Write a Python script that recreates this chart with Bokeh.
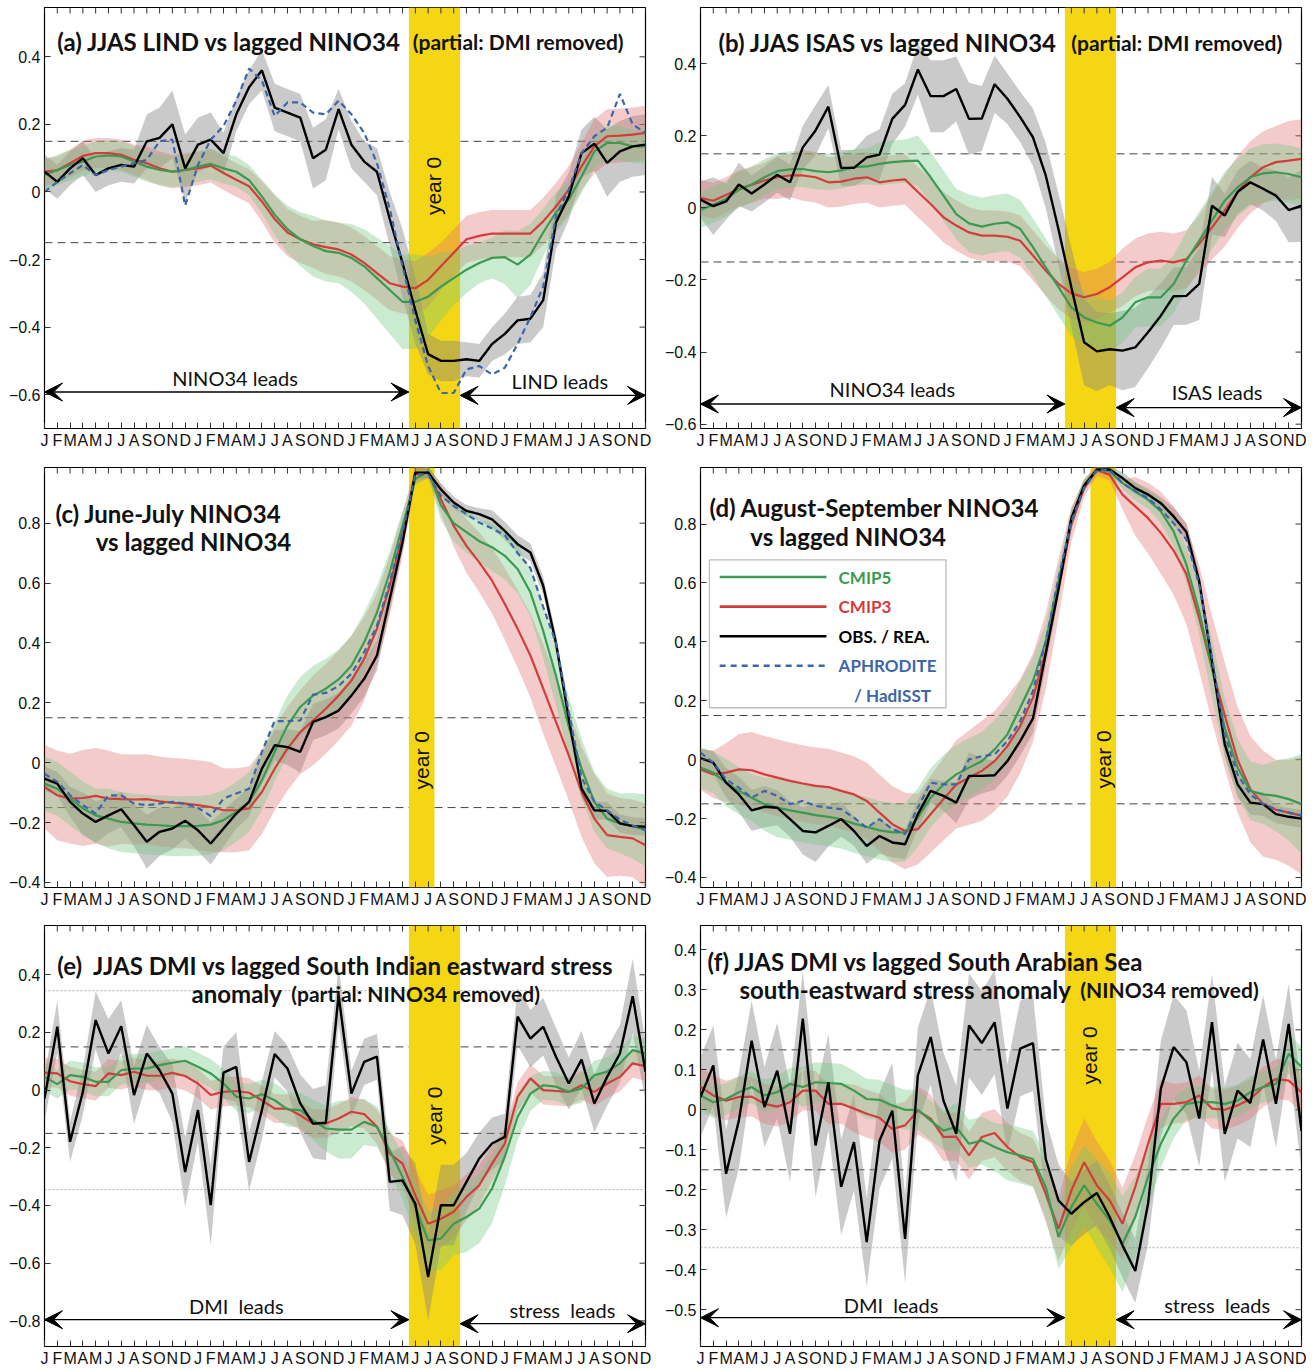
import math
from bokeh.plotting import figure
from bokeh.models import (Range1d, LinearAxis, FixedTicker, Span, Label, Arrow,
                          VeeHead, BoxAnnotation, CustomJSTickFormatter)
from bokeh.layouts import column, row
from bokeh.embed import file_html
from bokeh.resources import INLINE

# ---------------------------------------------------------------- axes data
MONTH_LETTERS = list("JFMAMJJASOND") * 4          # years -2, -1, 0, +1
MONTHS = list(range(48))
YEAR0_JAN = 24                                     # index of January, year 0

# ---------------------------------------------------------------- panel (a)
A_OBS = [0.06, 0.03, 0.07, 0.10, 0.05, 0.07, 0.08, 0.075, 0.15, 0.16, 0.20, 0.07,
         0.14, 0.155, 0.115, 0.23, 0.31, 0.36, 0.25, 0.235, 0.22, 0.10, 0.125, 0.245,
         0.14, 0.09, 0.06, -0.08, -0.21, -0.35, -0.48, -0.50, -0.50, -0.495, -0.50, -0.45,
         -0.42, -0.38, -0.375, -0.32, -0.09, -0.013, 0.115, 0.143, 0.086, 0.12, 0.135, 0.14]
A_OBS_HW = [0.05, 0.05, 0.05, 0.05, 0.05, 0.05, 0.05, 0.05, 0.08, 0.09, 0.10, 0.10,
            0.08, 0.08, 0.06, 0.05, 0.05, 0.06, 0.07, 0.07, 0.07, 0.09, 0.09, 0.06,
            0.07, 0.06, 0.07, 0.08, 0.10, 0.10, 0.06, 0.06, 0.06, 0.05, 0.05, 0.05,
            0.06, 0.07, 0.07, 0.08, 0.08, 0.07, 0.07, 0.08, 0.10, 0.09, 0.09, 0.09]
A_BLUE = [0.0, 0.03, 0.055, 0.08, 0.05, 0.065, 0.075, 0.085, 0.095, 0.15, 0.155, -0.04,
          0.08, 0.155, 0.195, 0.27, 0.365, 0.33, 0.225, 0.265, 0.265, 0.235, 0.23, 0.27,
          0.23, 0.175, 0.085, -0.05, -0.22, -0.38, -0.515, -0.595, -0.595, -0.525, -0.515, -0.54,
          -0.52, -0.45, -0.37, -0.28, -0.07, 0.007, 0.115, 0.165, 0.19, 0.29, 0.20, 0.175]
A_C5 = [0.05, 0.065, 0.08, 0.09, 0.105, 0.108, 0.105, 0.09, 0.075, 0.065, 0.06, 0.065,
        0.075, 0.083, 0.07, 0.06, 0.035, -0.013, -0.067, -0.11, -0.14, -0.16, -0.175, -0.18,
        -0.195, -0.22, -0.255, -0.29, -0.325, -0.325, -0.31, -0.28, -0.255, -0.23, -0.21, -0.195,
        -0.193, -0.215, -0.185, -0.12, -0.06, -0.023, 0.046, 0.12, 0.145, 0.145, 0.135, 0.135]
A_C5_HW = [0.045, 0.045, 0.045, 0.045, 0.045, 0.045, 0.045, 0.045, 0.045, 0.045, 0.045, 0.045,
           0.045, 0.045, 0.045, 0.045, 0.045, 0.05, 0.06, 0.07, 0.08, 0.09, 0.09, 0.09,
           0.10, 0.11, 0.12, 0.13, 0.14, 0.14, 0.12, 0.10, 0.08, 0.07, 0.06, 0.06,
           0.08, 0.10, 0.09, 0.07, 0.06, 0.05, 0.05, 0.05, 0.05, 0.05, 0.05, 0.05]
A_C3 = [0.06, 0.064, 0.085, 0.107, 0.115, 0.115, 0.11, 0.095, 0.085, 0.07, 0.06, 0.065,
        0.07, 0.078, 0.056, 0.036, 0.017, -0.028, -0.08, -0.12, -0.14, -0.155, -0.163, -0.17,
        -0.185, -0.21, -0.24, -0.27, -0.28, -0.285, -0.26, -0.22, -0.18, -0.14, -0.13, -0.123,
        -0.123, -0.123, -0.123, -0.087, -0.043, 0.007, 0.076, 0.135, 0.165, 0.167, 0.17, 0.175]
A_C3_HW = [0.04, 0.04, 0.04, 0.045, 0.045, 0.045, 0.045, 0.045, 0.05, 0.05, 0.05, 0.05,
           0.05, 0.05, 0.05, 0.05, 0.05, 0.06, 0.07, 0.07, 0.07, 0.07, 0.08, 0.08,
           0.08, 0.08, 0.08, 0.08, 0.08, 0.08, 0.08, 0.07, 0.07, 0.07, 0.07, 0.07,
           0.07, 0.07, 0.07, 0.07, 0.07, 0.07, 0.07, 0.08, 0.08, 0.08, 0.08, 0.08]

# ---------------------------------------------------------------- panel (b)
B_OBS = [0.023, 0.005, 0.018, 0.065, 0.04, 0.065, 0.092, 0.071, 0.168, 0.215, 0.281, 0.111,
         0.111, 0.14, 0.148, 0.247, 0.286, 0.384, 0.31, 0.31, 0.33, 0.247, 0.248, 0.343,
         0.303, 0.252, 0.196, 0.09, -0.06, -0.22, -0.373, -0.398, -0.392, -0.396, -0.387, -0.345,
         -0.299, -0.245, -0.244, -0.211, 0.006, -0.021, 0.044, 0.071, 0.053, 0.034, -0.006, 0.006]
B_OBS_HW = [0.05, 0.08, 0.05, 0.06, 0.05, 0.05, 0.05, 0.05, 0.06, 0.07, 0.06, 0.05,
            0.05, 0.06, 0.07, 0.07, 0.06, 0.07, 0.10, 0.10, 0.09, 0.10, 0.09, 0.08,
            0.07, 0.07, 0.08, 0.09, 0.10, 0.11, 0.12, 0.11, 0.10, 0.11, 0.11, 0.10,
            0.09, 0.08, 0.08, 0.10, 0.08, 0.06, 0.06, 0.06, 0.06, 0.07, 0.09, 0.10]
B_C5 = [-0.006, 0.009, 0.025, 0.05, 0.065, 0.085, 0.102, 0.107, 0.108, 0.102, 0.099, 0.104,
        0.113, 0.115, 0.122, 0.127, 0.13, 0.131, 0.085, 0.034, -0.017, -0.043, -0.052, -0.044,
        -0.04, -0.058, -0.109, -0.165, -0.22, -0.276, -0.304, -0.318, -0.327, -0.304, -0.262, -0.248,
        -0.248, -0.211, -0.146, -0.091, -0.035, 0.02, 0.057, 0.085, 0.096, 0.099, 0.094, 0.085]
B_C5_HW = [0.05, 0.05, 0.05, 0.05, 0.05, 0.05, 0.05, 0.05, 0.05, 0.05, 0.05, 0.05,
           0.05, 0.05, 0.06, 0.06, 0.06, 0.07, 0.07, 0.07, 0.07, 0.08, 0.08, 0.08,
           0.08, 0.08, 0.08, 0.08, 0.08, 0.08, 0.07, 0.07, 0.07, 0.07, 0.07, 0.08,
           0.08, 0.08, 0.08, 0.08, 0.08, 0.08, 0.08, 0.08, 0.08, 0.08, 0.08, 0.08]
B_C3 = [0.028, 0.02, 0.036, 0.053, 0.064, 0.076, 0.085, 0.09, 0.09, 0.085, 0.071, 0.073,
        0.081, 0.085, 0.071, 0.076, 0.079, 0.044, 0.011, -0.026, -0.049, -0.068, -0.077, -0.077,
        -0.08, -0.091, -0.132, -0.174, -0.211, -0.237, -0.248, -0.239, -0.22, -0.193, -0.165, -0.151,
        -0.146, -0.151, -0.142, -0.10, -0.054, -0.007, 0.044, 0.085, 0.113, 0.127, 0.131, 0.136]
B_C3_HW = [0.05, 0.05, 0.05, 0.05, 0.05, 0.05, 0.06, 0.06, 0.07, 0.07, 0.07, 0.07,
           0.07, 0.07, 0.07, 0.07, 0.07, 0.07, 0.07, 0.07, 0.07, 0.07, 0.07, 0.07,
           0.07, 0.07, 0.07, 0.07, 0.07, 0.07, 0.07, 0.07, 0.07, 0.08, 0.08, 0.08,
           0.08, 0.08, 0.08, 0.08, 0.09, 0.10, 0.10, 0.10, 0.10, 0.10, 0.11, 0.11]

# ---------------------------------------------------------------- panel (c)
C_OBS = [-0.053, -0.07, -0.131, -0.17, -0.198, -0.176, -0.156, -0.209, -0.264, -0.231, -0.22, -0.194,
         -0.226, -0.27, -0.22, -0.17, -0.131, -0.02, 0.058, 0.052, 0.036, 0.136, 0.152, 0.174,
         0.224, 0.28, 0.358, 0.547, 0.736, 0.969, 0.969, 0.913, 0.869, 0.841, 0.83, 0.813,
         0.774, 0.73, 0.702, 0.591, 0.40, 0.147, -0.087, -0.159, -0.161, -0.203, -0.212, -0.214]
C_OBS_HW = [0.04, 0.04, 0.05, 0.07, 0.07, 0.06, 0.06, 0.07, 0.09, 0.08, 0.07, 0.06,
            0.07, 0.07, 0.06, 0.05, 0.05, 0.05, 0.05, 0.06, 0.07, 0.06, 0.06, 0.06,
            0.06, 0.06, 0.05, 0.04, 0.03, 0.02, 0.02, 0.02, 0.02, 0.02, 0.02, 0.03,
            0.03, 0.03, 0.03, 0.03, 0.03, 0.03, 0.03, 0.03, 0.03, 0.03, 0.03, 0.03]
C_BLUE = [-0.037, -0.064, -0.109, -0.142, -0.17, -0.109, -0.109, -0.137, -0.142, -0.137, -0.131, -0.137,
          -0.151, -0.178, -0.12, -0.103, -0.087, 0.036, 0.139, 0.139, 0.141, 0.227, 0.233, 0.256,
          0.297, 0.369, 0.458, 0.602, 0.769, 0.963, 0.963, 0.891, 0.858, 0.83, 0.802, 0.782,
          0.76, 0.70, 0.65, 0.52, 0.40, 0.17, -0.05, -0.13, -0.16, -0.19, -0.21, -0.225]
C_C5 = [-0.07, -0.087, -0.12, -0.153, -0.176, -0.187, -0.198, -0.203, -0.207, -0.209, -0.212, -0.212,
        -0.211, -0.207, -0.192, -0.164, -0.131, -0.059, 0.036, 0.124, 0.186, 0.224, 0.247, 0.278,
        0.324, 0.402, 0.502, 0.636, 0.791, 0.947, 0.974, 0.86, 0.80, 0.77, 0.74, 0.72,
        0.691, 0.647, 0.569, 0.44, 0.29, 0.12, -0.02, -0.131, -0.187, -0.203, -0.211, -0.226]
C_C5_HW = [0.09, 0.09, 0.09, 0.09, 0.09, 0.10, 0.10, 0.10, 0.10, 0.10, 0.10, 0.10,
           0.10, 0.10, 0.10, 0.10, 0.10, 0.10, 0.10, 0.10, 0.10, 0.10, 0.10, 0.10,
           0.10, 0.10, 0.09, 0.07, 0.05, 0.02, 0.02, 0.05, 0.06, 0.07, 0.07, 0.08,
           0.08, 0.08, 0.08, 0.09, 0.10, 0.10, 0.10, 0.10, 0.10, 0.10, 0.11, 0.12]
C_C3 = [-0.081, -0.109, -0.12, -0.118, -0.111, -0.12, -0.122, -0.123, -0.122, -0.129, -0.134, -0.137,
        -0.142, -0.148, -0.159, -0.159, -0.153, -0.098, -0.02, 0.047, 0.102, 0.141, 0.18, 0.224,
        0.274, 0.347, 0.447, 0.591, 0.763, 0.963, 0.969, 0.88, 0.791, 0.724, 0.669, 0.608,
        0.53, 0.447, 0.358, 0.247, 0.136, 0.024, -0.098, -0.187, -0.242, -0.248, -0.253, -0.276]
C_C3_HW = [0.14, 0.15, 0.15, 0.16, 0.16, 0.16, 0.15, 0.15, 0.15, 0.15, 0.15, 0.15,
           0.15, 0.15, 0.14, 0.14, 0.14, 0.14, 0.14, 0.14, 0.14, 0.15, 0.15, 0.15,
           0.15, 0.14, 0.12, 0.10, 0.07, 0.03, 0.02, 0.05, 0.07, 0.09, 0.10, 0.11,
           0.12, 0.13, 0.14, 0.15, 0.15, 0.15, 0.15, 0.15, 0.14, 0.13, 0.13, 0.14]

# ---------------------------------------------------------------- panel (d)
D_OBS = [0.005, -0.01, -0.078, -0.118, -0.172, -0.16, -0.163, -0.202, -0.242, -0.247, -0.225, -0.202,
         -0.242, -0.293, -0.259, -0.281, -0.287, -0.185, -0.106, -0.123, -0.146, -0.055, -0.055, -0.053,
         -0.005, 0.063, 0.14, 0.36, 0.58, 0.82, 0.93, 0.985, 0.985, 0.956, 0.922, 0.90,
         0.871, 0.826, 0.773, 0.606, 0.334, 0.052, -0.084, -0.146, -0.151, -0.185, -0.194, -0.20]
D_OBS_HW = [0.03, 0.04, 0.05, 0.06, 0.07, 0.07, 0.06, 0.06, 0.08, 0.10, 0.07, 0.06,
            0.05, 0.06, 0.06, 0.05, 0.05, 0.05, 0.04, 0.05, 0.07, 0.08, 0.06, 0.05,
            0.05, 0.05, 0.05, 0.04, 0.03, 0.03, 0.02, 0.01, 0.01, 0.02, 0.02, 0.02,
            0.02, 0.03, 0.03, 0.03, 0.03, 0.04, 0.04, 0.04, 0.04, 0.03, 0.03, 0.03]
D_BLUE = [0.024, -0.01, -0.067, -0.095, -0.129, -0.106, -0.123, -0.151, -0.14, -0.157, -0.163, -0.168,
          -0.197, -0.231, -0.202, -0.236, -0.253, -0.163, -0.078, -0.084, -0.084, 0.001, 0.012, 0.018,
          0.063, 0.131, 0.233, 0.402, 0.617, 0.809, 0.922, 0.984, 0.984, 0.939, 0.911, 0.888,
          0.849, 0.803, 0.747, 0.594, 0.346, 0.086, -0.05, -0.118, -0.151, -0.168, -0.18, -0.189]
D_C5 = [-0.027, -0.044, -0.078, -0.106, -0.129, -0.151, -0.163, -0.172, -0.18, -0.188, -0.194, -0.202,
        -0.217, -0.228, -0.24, -0.247, -0.247, -0.197, -0.129, -0.084, -0.05, -0.027, -0.005, 0.035,
        0.086, 0.176, 0.267, 0.402, 0.606, 0.809, 0.933, 0.984, 0.979, 0.939, 0.911, 0.882,
        0.843, 0.775, 0.662, 0.504, 0.312, 0.108, -0.027, -0.106, -0.118, -0.123, -0.134, -0.151]
D_C5_HW = [0.07, 0.07, 0.08, 0.08, 0.08, 0.09, 0.10, 0.10, 0.10, 0.10, 0.10, 0.10,
           0.10, 0.10, 0.10, 0.10, 0.10, 0.10, 0.10, 0.10, 0.10, 0.10, 0.10, 0.10,
           0.10, 0.09, 0.08, 0.06, 0.05, 0.03, 0.02, 0.01, 0.01, 0.02, 0.03, 0.03,
           0.04, 0.05, 0.06, 0.08, 0.10, 0.10, 0.10, 0.10, 0.10, 0.12, 0.14, 0.17]
D_C3 = [-0.033, -0.05, -0.044, -0.033, -0.036, -0.05, -0.061, -0.072, -0.081, -0.089, -0.093, -0.106,
        -0.118, -0.14, -0.18, -0.219, -0.242, -0.236, -0.185, -0.134, -0.084, -0.061, -0.038, -0.005,
        0.046, 0.114, 0.21, 0.368, 0.583, 0.798, 0.922, 0.984, 0.967, 0.90, 0.86, 0.82,
        0.77, 0.71, 0.63, 0.48, 0.31, 0.15, 0.0, -0.10, -0.15, -0.17, -0.18, -0.19]
D_C3_HW = [0.07, 0.08, 0.10, 0.12, 0.13, 0.13, 0.13, 0.13, 0.13, 0.13, 0.13, 0.13,
           0.13, 0.13, 0.13, 0.13, 0.13, 0.12, 0.13, 0.14, 0.15, 0.16, 0.17, 0.17,
           0.17, 0.16, 0.15, 0.13, 0.10, 0.06, 0.03, 0.02, 0.02, 0.05, 0.10, 0.12,
           0.14, 0.15, 0.17, 0.18, 0.18, 0.18, 0.18, 0.18, 0.18, 0.17, 0.18, 0.20]

# ---------------------------------------------------------------- panel (e)
E_OBS = [-0.029, 0.22, -0.179, -0.006, 0.243, 0.127, 0.222, -0.017, 0.127, 0.069, -0.012, -0.284,
         -0.069, -0.399, 0.061, 0.081, -0.249, -0.069, 0.125, 0.075, -0.046, -0.116, -0.113, 0.33,
         -0.012, 0.098, 0.116, -0.318, -0.313, -0.394, -0.648, -0.399, -0.399, -0.318, -0.237, -0.185,
         -0.162, 0.255, 0.179, 0.22, 0.116, 0.023, 0.106, -0.046, 0.046, 0.127, 0.326, 0.064]
E_OBS_HW = [0.08, 0.09, 0.07, 0.08, 0.10, 0.12, 0.09, 0.10, 0.10, 0.08, 0.10, 0.12,
            0.11, 0.14, 0.09, 0.12, 0.10, 0.10, 0.08, 0.08, 0.10, 0.12, 0.13, 0.10,
            0.08, 0.08, 0.08, 0.10, 0.12, 0.14, 0.15, 0.14, 0.14, 0.10, 0.09, 0.09,
            0.08, 0.10, 0.10, 0.10, 0.10, 0.09, 0.10, 0.10, 0.10, 0.10, 0.13, 0.10]
E_C5 = [0.046, 0.021, 0.052, 0.046, 0.029, 0.029, 0.069, 0.075, 0.075, 0.087, 0.095, 0.102,
        0.081, 0.058, 0.023, -0.023, -0.029, -0.014, -0.035, -0.067, -0.069, -0.104, -0.133, -0.137,
        -0.137, -0.11, -0.127, -0.208, -0.301, -0.405, -0.521, -0.515, -0.463, -0.44, -0.411, -0.341,
        -0.231, -0.093, -0.012, 0.017, 0.012, -0.006, 0.006, 0.052, 0.064, 0.093, 0.139, 0.127]
E_C5_HW = [0.05, 0.05, 0.05, 0.05, 0.05, 0.05, 0.05, 0.05, 0.05, 0.05, 0.05, 0.05,
           0.05, 0.05, 0.05, 0.05, 0.05, 0.05, 0.06, 0.06, 0.06, 0.07, 0.08, 0.10,
           0.10, 0.08, 0.07, 0.07, 0.08, 0.09, 0.10, 0.11, 0.11, 0.12, 0.12, 0.12,
           0.10, 0.08, 0.06, 0.05, 0.05, 0.05, 0.05, 0.05, 0.05, 0.05, 0.05, 0.05]
E_C3 = [0.061, 0.058, 0.031, 0.021, 0.014, 0.058, 0.052, 0.064, 0.05, 0.05, 0.06, 0.049,
        0.023, -0.017, -0.006, -0.003, -0.009, -0.035, -0.064, -0.064, -0.087, -0.116, -0.116, -0.098,
        -0.075, -0.083, -0.127, -0.22, -0.255, -0.365, -0.463, -0.446, -0.422, -0.37, -0.33, -0.255,
        -0.185, -0.023, 0.041, 0.0, -0.003, -0.006, 0.017, -0.006, 0.023, 0.046, 0.093, 0.083]
E_C3_HW = [0.05, 0.05, 0.05, 0.05, 0.05, 0.05, 0.05, 0.05, 0.05, 0.05, 0.05, 0.05,
           0.05, 0.05, 0.05, 0.05, 0.05, 0.05, 0.05, 0.05, 0.05, 0.05, 0.05, 0.05,
           0.05, 0.05, 0.06, 0.07, 0.08, 0.09, 0.10, 0.10, 0.09, 0.08, 0.07, 0.06,
           0.05, 0.05, 0.05, 0.05, 0.05, 0.05, 0.05, 0.05, 0.05, 0.05, 0.05, 0.05]

# ---------------------------------------------------------------- panel (f)
F_OBS = [0.032, 0.111, -0.16, -0.027, 0.173, 0.007, 0.098, -0.06, 0.228, -0.089, 0.069, -0.193,
         -0.081, -0.331, -0.077, -0.002, -0.323, 0.086, 0.182, 0.023, -0.06, 0.211, 0.167, 0.219,
         0.003, 0.153, 0.167, -0.123, -0.227, -0.26, -0.231, -0.208, -0.268, -0.339, -0.403, -0.235,
         0.053, 0.157, 0.119, -0.022, 0.219, -0.06, 0.048, 0.017, 0.176, 0.015, 0.215, -0.053]
F_OBS_HW = [0.10, 0.10, 0.11, 0.12, 0.10, 0.10, 0.12, 0.12, 0.12, 0.13, 0.12, 0.12,
            0.12, 0.11, 0.12, 0.12, 0.11, 0.12, 0.12, 0.12, 0.12, 0.13, 0.13, 0.13,
            0.11, 0.12, 0.12, 0.10, 0.09, 0.08, 0.08, 0.08, 0.08, 0.08, 0.08, 0.10,
            0.12, 0.13, 0.13, 0.12, 0.12, 0.12, 0.12, 0.11, 0.11, 0.11, 0.10, 0.10]
F_C5 = [0.036, 0.019, 0.027, 0.044, 0.057, 0.036, 0.044, 0.065, 0.057, 0.069, 0.067, 0.065,
        0.048, 0.027, 0.025, 0.011, 0.0, 0.0, -0.027, -0.052, -0.043, -0.085, -0.077, -0.093,
        -0.106, -0.114, -0.123, -0.193, -0.318, -0.243, -0.189, -0.235, -0.277, -0.335, -0.268, -0.168,
        -0.085, -0.022, 0.015, 0.019, 0.019, 0.015, 0.023, 0.044, 0.057, 0.065, 0.14, 0.107]
F_C5_HW = [0.04, 0.04, 0.04, 0.04, 0.04, 0.04, 0.04, 0.04, 0.05, 0.05, 0.05, 0.05,
           0.05, 0.05, 0.05, 0.05, 0.05, 0.05, 0.05, 0.05, 0.06, 0.06, 0.06, 0.06,
           0.07, 0.07, 0.07, 0.08, 0.08, 0.10, 0.10, 0.11, 0.12, 0.12, 0.10, 0.08,
           0.06, 0.05, 0.04, 0.04, 0.04, 0.04, 0.04, 0.04, 0.04, 0.04, 0.05, 0.05]
F_C3 = [0.057, 0.036, 0.023, 0.032, 0.033, 0.015, 0.008, 0.019, 0.048, 0.048, 0.015, 0.015,
        0.003, -0.01, -0.02, -0.048, -0.039, -0.002, -0.022, -0.068, -0.067, -0.114, -0.068, -0.058,
        -0.093, -0.118, -0.131, -0.21, -0.298, -0.202, -0.131, -0.189, -0.227, -0.285, -0.193, -0.085,
        0.015, 0.015, 0.019, 0.036, 0.003, 0.0, 0.011, 0.027, 0.057, 0.077, 0.073, 0.044]
F_C3_HW = [0.05, 0.05, 0.05, 0.05, 0.05, 0.05, 0.05, 0.05, 0.05, 0.05, 0.05, 0.05,
           0.06, 0.06, 0.06, 0.06, 0.06, 0.06, 0.06, 0.06, 0.06, 0.06, 0.06, 0.06,
           0.06, 0.06, 0.06, 0.07, 0.08, 0.10, 0.11, 0.11, 0.10, 0.09, 0.08, 0.07,
           0.06, 0.05, 0.05, 0.05, 0.05, 0.05, 0.05, 0.05, 0.05, 0.05, 0.05, 0.05]

# ---------------------------------------------------------------- styling
YELLOW = "#f5d614"
GREEN = "#3a9a52"
RED = "#d43c3c"
BLUE = "#3d66aa"
TITLE_FONT = "Lato"
TICK_FONT = "Liberation Sans"
TICK_LEN = 6   # px, inward ticks

PANELS = {
    "a": dict(yrange=(-0.70, 0.546), yticks=[-0.6, -0.4, -0.2, 0, 0.2, 0.4],
              obs=A_OBS, obs_hw=A_OBS_HW, c5=A_C5, c5_hw=A_C5_HW, c3=A_C3, c3_hw=A_C3_HW, blue=A_BLUE,
              season=[5, 6, 7, 8],
              titles=[("(a) JJAS LIND vs lagged NINO34", 1.0, 0.444, 24),
                      ("(partial: DMI removed)", 28.8, 0.444, 21)],
              year0=(30.4, 0.018),
              arrows=(-0.592, -0.602),
              leads=[("NINO34 leads", 14.9, -0.55), ("LIND leads", 40.3, -0.56)],
              dotted=[]),
    "b": dict(yrange=(-0.612, 0.556), yticks=[-0.6, -0.4, -0.2, 0, 0.2, 0.4],
              obs=B_OBS, obs_hw=B_OBS_HW, c5=B_C5, c5_hw=B_C5_HW, c3=B_C3, c3_hw=B_C3_HW, blue=None,
              season=[5, 6, 7, 8],
              titles=[("(b) JJAS ISAS vs lagged NINO34", 1.4, 0.458, 24),
                      ("(partial: DMI removed)", 29.0, 0.458, 21)],
              year0=None,
              arrows=(-0.544, -0.554),
              leads=[("NINO34 leads", 15.0, -0.503), ("ISAS leads", 40.4, -0.512)],
              dotted=[]),
    "c": dict(yrange=(-0.417, 0.986), yticks=[-0.4, -0.2, 0, 0.2, 0.4, 0.6, 0.8],
              obs=C_OBS, obs_hw=C_OBS_HW, c5=C_C5, c5_hw=C_C5_HW, c3=C_C3, c3_hw=C_C3_HW, blue=C_BLUE,
              season=[5, 6],
              titles=[("(c) June-July NINO34", 0.86, 0.831, 24),
                      ("vs lagged NINO34", 4.0, 0.738, 24)],
              year0=(29.5, 0.008),
              arrows=None, leads=[], dotted=[]),
    "d": dict(yrange=(-0.434, 0.992), yticks=[-0.4, -0.2, 0, 0.2, 0.4, 0.6, 0.8],
              obs=D_OBS, obs_hw=D_OBS_HW, c5=D_C5, c5_hw=D_C5_HW, c3=D_C3, c3_hw=D_C3_HW, blue=D_BLUE,
              season=[7, 8],
              titles=[("(d) August-September NINO34", 0.7, 0.855, 24),
                      ("vs lagged NINO34", 3.9, 0.757, 24)],
              year0=(31.5, 0.001),
              arrows=None, leads=[], dotted=[]),
    "e": dict(yrange=(-0.889, 0.571), yticks=[-0.8, -0.6, -0.4, -0.2, 0, 0.2, 0.4],
              obs=E_OBS, obs_hw=E_OBS_HW, c5=E_C5, c5_hw=E_C5_HW, c3=E_C3, c3_hw=E_C3_HW, blue=None,
              season=[5, 6, 7, 8],
              titles=[("(e)\u00a0 JJAS DMI vs lagged South Indian eastward stress", 1.0, 0.432, 24),
                      ("anomaly", 11.5, 0.335, 24),
                      ("(partial: NINO34 removed)", 19.3, 0.335, 21)],
              year0=(30.5, -0.089),
              arrows=(-0.796, -0.81),
              leads=[("DMI\u00a0 leads", 15.0, -0.75), ("stress\u00a0 leads", 40.5, -0.762)],
              dotted=[0.345, -0.345]),
    "f": dict(yrange=(-0.592, 0.461), yticks=[-0.5, -0.4, -0.3, -0.2, -0.1, 0, 0.1, 0.2, 0.3, 0.4],
              obs=F_OBS, obs_hw=F_OBS_HW, c5=F_C5, c5_hw=F_C5_HW, c3=F_C3, c3_hw=F_C3_HW, blue=None,
              season=[5, 6, 7, 8],
              titles=[("(f) JJAS DMI vs lagged South Arabian Sea", 0.55, 0.371, 24),
                      ("south-eastward stress anomaly", 3.05, 0.30, 24),
                      ("(NINO34 removed)", 29.7, 0.30, 21)],
              year0=(30.4, 0.136),
              arrows=(-0.52, -0.525),
              leads=[("DMI\u00a0 leads", 14.9, -0.4875), ("stress\u00a0 leads", 40.4, -0.489)],
              dotted=[-0.345]),
}

LEGEND_ITEMS = [("CMIP5", GREEN, "solid"), ("CMIP3", RED, "solid"),
                ("OBS. / REA.", "black", "solid"), ("APHRODITE", BLUE, "6 5")]
LEGEND_EXTRA = "/ HadISST"

YFMT = CustomJSTickFormatter(code="""
const a = Math.abs(tick);
let s = a.toFixed(1);
if (s.endsWith('.0')) { s = s.slice(0, -2); }
return (tick < -1e-9 ? '\u2212' : '') + s;
""")


def band(center, hw):
    return [c - h for c, h in zip(center, hw)], [c + h for c, h in zip(center, hw)]


def make_panel(cfg, width, height, border_right, border_top, border_bottom, legend=False):
    y_lo, y_hi = cfg["yrange"]
    frame_w = width - 44 - border_right
    frame_h = height - border_top - border_bottom
    p = figure(width=width, height=height, x_range=Range1d(0, 47), y_range=Range1d(y_lo, y_hi),
               output_backend="svg", toolbar_location=None,
               x_axis_location=None, y_axis_location=None,
               min_border_left=44, min_border_right=border_right,
               min_border_top=border_top, min_border_bottom=border_bottom)
    p.grid.visible = False
    p.outline_line_color = "black"
    p.outline_line_width = 1.2
    p.outline_line_alpha = 1

    # bottom and left axes (inward ticks)
    xb = LinearAxis(ticker=FixedTicker(ticks=MONTHS),
                    major_label_overrides={i: l for i, l in enumerate(MONTH_LETTERS)},
                    major_tick_in=TICK_LEN, major_tick_out=0, minor_tick_line_color=None,
                    axis_line_color=None, major_tick_line_color="#333333",
                    major_label_text_font=TICK_FONT, major_label_text_font_size="16px",
                    major_label_standoff=3, major_label_text_color="#111111")
    p.add_layout(xb, "below")
    yl = LinearAxis(ticker=FixedTicker(ticks=cfg["yticks"]), formatter=YFMT,
                    major_tick_in=TICK_LEN, major_tick_out=0, minor_tick_line_color=None,
                    axis_line_color=None, major_tick_line_color="#333333",
                    major_label_text_font=TICK_FONT, major_label_text_font_size="16px",
                    major_label_standoff=4, major_label_text_color="#111111")
    p.add_layout(yl, "left")

    # inward ticks on top and right frame edges (no labels)
    dy = TICK_LEN * (y_hi - y_lo) / frame_h
    dx = TICK_LEN * 47.0 / frame_w
    p.segment(x0=MONTHS, y0=[y_hi] * len(MONTHS), x1=MONTHS, y1=[y_hi - dy] * len(MONTHS),
              line_color="#333333", line_width=1)
    yt = cfg["yticks"]
    p.segment(x0=[47] * len(yt), y0=yt, x1=[47 - dx] * len(yt), y1=yt,
              line_color="#333333", line_width=1)

    # significance lines (under the yellow band)
    for lv in (0.15, -0.15):
        p.add_layout(Span(location=lv, dimension="width", line_color="#444444",
                          line_dash="8 5", line_width=1, level="underlay"))
    for lv in cfg["dotted"]:
        p.add_layout(Span(location=lv, dimension="width", line_color="#aaaaaa",
                          line_dash="2 2", line_width=1, level="underlay"))

    # year-0 season
    season = cfg["season"]
    left = YEAR0_JAN + season[0] - 0.5
    right = YEAR0_JAN + season[-1] + 0.5
    p.add_layout(BoxAnnotation(left=left, right=right, fill_color=YELLOW, fill_alpha=1,
                               line_color=None, level="underlay"))

    # spread bands
    lo, hi = band(cfg["obs"], cfg["obs_hw"])
    p.varea(x=MONTHS, y1=lo, y2=hi, fill_color="#808080", fill_alpha=0.42)
    lo, hi = band(cfg["c3"], cfg["c3_hw"])
    p.varea(x=MONTHS, y1=lo, y2=hi, fill_color="#e07070", fill_alpha=0.36)
    lo, hi = band(cfg["c5"], cfg["c5_hw"])
    p.varea(x=MONTHS, y1=lo, y2=hi, fill_color="#70c880", fill_alpha=0.36)

    # lines
    p.line(MONTHS, cfg["c3"], line_color=RED, line_width=2.2)
    p.line(MONTHS, cfg["c5"], line_color=GREEN, line_width=2.2)
    p.line(MONTHS, cfg["obs"], line_color="black", line_width=2.4)
    if cfg["blue"] is not None:
        p.line(MONTHS, cfg["blue"], line_color=BLUE, line_width=2.2, line_dash="6 4")

    # titles
    for txt, x, y, size in cfg["titles"]:
        p.add_layout(Label(x=x, y=y, text=txt, text_font=TITLE_FONT, text_font_style="bold",
                           text_font_size=f"{size}px", text_color="#111111",
                           text_baseline="alphabetic", text_align="left"))

    if cfg["year0"] is not None:
        x, y = cfg["year0"]
        p.add_layout(Label(x=x, y=y, text="year 0", angle=math.pi / 2, text_font=TICK_FONT,
                           text_font_size="21px", text_color="#111111",
                           text_align="center", text_baseline="middle"))

    if cfg["arrows"] is not None:
        yl_, yr_ = cfg["arrows"]
        p.add_layout(Arrow(start=VeeHead(size=18, fill_color="black", line_color="black"),
                           end=VeeHead(size=18, fill_color="black", line_color="black"),
                           x_start=0, y_start=yl_, x_end=left, y_end=yl_,
                           line_color="black", line_width=1.3))
        p.add_layout(Arrow(start=VeeHead(size=18, fill_color="black", line_color="black"),
                           end=VeeHead(size=18, fill_color="black", line_color="black"),
                           x_start=right, y_start=yr_, x_end=47, y_end=yr_,
                           line_color="black", line_width=1.3))
        for txt, x, y in cfg["leads"]:
            p.add_layout(Label(x=x, y=y, text=txt, text_font=TITLE_FONT,
                               text_font_size="20px", text_color="#111111",
                               text_align="center", text_baseline="middle"))

    if legend:
        span = y_hi - y_lo
        top = y_lo + 0.78 * span
        bottom = y_lo + 0.428 * span
        p.add_layout(BoxAnnotation(left=0.7, right=19.2, top=top, bottom=bottom,
                                   fill_color="white", fill_alpha=1, line_color="#222222",
                                   line_width=1.3, level="annotation"))
        step = (top - bottom) / 5.0
        for k, (name, col, dash) in enumerate(LEGEND_ITEMS):
            yy = top - step * (0.58 + k)
            p.add_layout(Arrow(start=None, end=None, x_start=1.5, y_start=yy, x_end=9.85, y_end=yy,
                               line_color=col, line_width=2.6, line_dash=dash))
            p.add_layout(Label(x=10.8, y=yy, text=name, text_font=TITLE_FONT,
                               text_font_style="bold", text_font_size="17px", text_color=col,
                               text_baseline="middle", text_align="left"))
        yy = top - step * (0.58 + len(LEGEND_ITEMS))
        p.add_layout(Label(x=12.0, y=yy, text=LEGEND_EXTRA, text_font=TITLE_FONT,
                           text_font_style="bold", text_font_size="17px", text_color=BLUE,
                           text_baseline="middle", text_align="left"))
    return p


# rows: (height, top border, bottom border)
ROW1 = (460, 7, 32)
ROW2 = (458, 7, 31)
ROW3 = (451, 7, 23)
LEFT_W, LEFT_BR = 656, 11
RIGHT_W, RIGHT_BR = 650, 5

pa = make_panel(PANELS["a"], LEFT_W, ROW1[0], LEFT_BR, ROW1[1], ROW1[2])
pb = make_panel(PANELS["b"], RIGHT_W, ROW1[0], RIGHT_BR, ROW1[1], ROW1[2])
pc = make_panel(PANELS["c"], LEFT_W, ROW2[0], LEFT_BR, ROW2[1], ROW2[2])
pd = make_panel(PANELS["d"], RIGHT_W, ROW2[0], RIGHT_BR, ROW2[1], ROW2[2], legend=True)
pe = make_panel(PANELS["e"], LEFT_W, ROW3[0], LEFT_BR, ROW3[1], ROW3[2])
pf = make_panel(PANELS["f"], RIGHT_W, ROW3[0], RIGHT_BR, ROW3[1], ROW3[2])

layout = column(row(pa, pb), row(pc, pd), row(pe, pf))
open("out.html", "w").write(file_html(layout, INLINE))
